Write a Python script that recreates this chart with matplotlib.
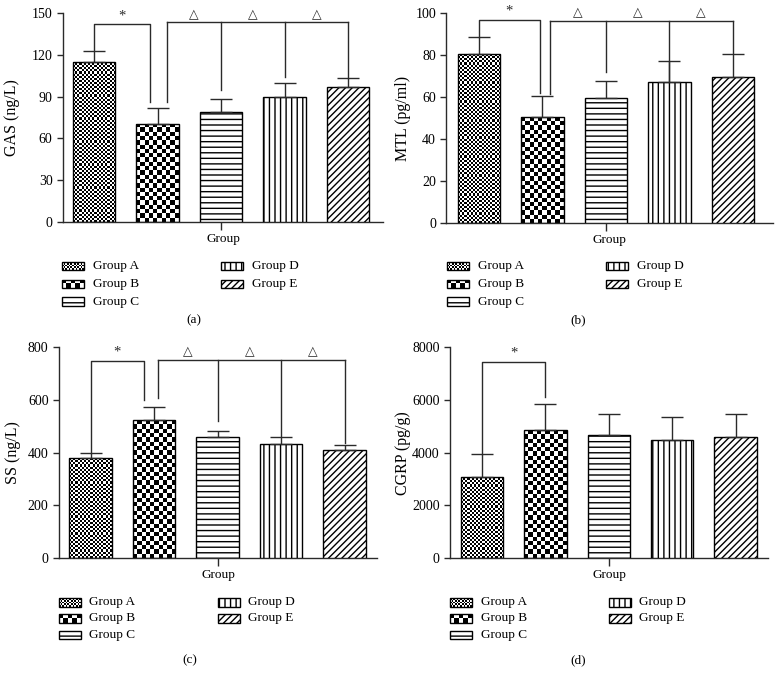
import numpy as np
import matplotlib
matplotlib.use("Agg")
import matplotlib.pyplot as plt
from matplotlib.patches import Rectangle

plt.rcParams['font.family'] = ['Liberation Serif', 'DejaVu Sans']
plt.rcParams['hatch.linewidth'] = 1.0

# ---------------- data ----------------
groups = ['Group A', 'Group B', 'Group C', 'Group D', 'Group E']

gas_mean = [115.0, 70.5, 78.7, 89.4, 96.8]
gas_sd = [7.8, 11.5, 9.3, 10.0, 6.2]

mtl_mean = [80.7, 50.5, 59.7, 67.1, 69.8]
mtl_sd = [8.2, 9.9, 8.0, 10.3, 11.0]

ss_mean = [379, 524, 460, 432, 410]
ss_sd = [19, 48, 21, 28, 20]

cgrp_mean = [3086, 4846, 4657, 4467, 4581]
cgrp_sd = [874, 987, 797, 896, 873]

ylabels = ['GAS (ng/L)', 'MTL (pg/ml)', 'SS (ng/L)', 'CGRP (pg/g)']
yticks = [np.arange(0, 151, 30), np.arange(0, 101, 20),
          np.arange(0, 801, 200), np.arange(0, 8001, 2000)]
panel_tags = ['(a)', '(b)', '(c)', '(d)']

# significance brackets: (top, leg bottoms)
star_brackets = [(141.6, [123, 86]), (96.9, [88.9, 61.8]),
                 (749, [398, 600]), (7450, [3960, 6122])]
delta_brackets = [(143, [86, 94.6, 104, 103]), (96.5, [61.3, 72.1, 67, 80.9]),
                  (752, [606, 521, 463, 435]), None]

# ---------------- layout (pixels) ----------------
W, H = 776, 686
fig = plt.figure(figsize=(W / 100, H / 100), dpi=100)

# left, right, top, bottom in px; xlim; ylabel x; bracket leg offsets
layout = [
    (63, 383, 12.7, 222.3, (-0.488, 4.55), -0.158, 0.115, 0.15),
    (446.5, 773, 13.3, 222.7, (-0.51, 4.63), -0.134, 0.04, 0.125),
    (59, 377, 347.3, 557.7, (-0.496, 4.51), -0.146, 0.157, 0.063),
    (450, 768, 347.3, 558.0, (-0.505, 4.51), -0.148, 0.0, 0.0),
]

means = [gas_mean, mtl_mean, ss_mean, cgrp_mean]
sds = [gas_sd, mtl_sd, ss_sd, cgrp_sd]

LC = '#2a2a2a'
hatches = [None, None, '---', '|||', '/////']
checker_cells = [2.1, 4.3, None, None, None]


def checker(nx, ny):
    i, j = np.indices((ny, nx))
    return ((i + j) % 2).astype(float)


axes = []
for k in range(4):
    l, r, t, b, xl, ylx, off_s, off_d = layout[k]
    ax = fig.add_axes([l / W, 1 - b / H, (r - l) / W, (b - t) / H])
    axes.append(ax)
    x = np.arange(5)
    ymax = yticks[k][-1]
    ax.set_xlim(*xl)
    ax.set_ylim(0, ymax)
    bars = ax.bar(x, means[k], width=0.67, color='white', edgecolor='black',
                  linewidth=1.0, zorder=3)
    for i, bar in enumerate(bars):
        if hatches[i]:
            bar.set_hatch(hatches[i])
        else:
            bar.set_facecolor('none')
            x0, w, h = bar.get_x(), bar.get_width(), bar.get_height()
            p0 = ax.transData.transform((x0, 0))
            p1 = ax.transData.transform((x0 + w, h))
            c = checker_cells[i]
            nx = max(1, int(round((p1[0] - p0[0]) / c)))
            ny = max(1, int(round((p1[1] - p0[1]) / c)))
            im = ax.imshow(checker(nx, ny), extent=[x0, x0 + w, 0, h],
                           cmap='gray', interpolation='nearest', aspect='auto',
                           origin='lower', zorder=2, vmin=0, vmax=1)
            im.set_clip_path(bar)
    ax.errorbar(x, means[k], yerr=[np.zeros(5), sds[k]], fmt='none',
                ecolor=LC, elinewidth=1.0, capsize=7.8, capthick=1.0, zorder=4)
    ax.set_xlim(*xl)
    ax.set_ylim(0, ymax)
    ax.set_yticks(yticks[k])
    ax.set_xticks([2])
    ax.set_xticklabels([''])
    ax.tick_params(axis='y', direction='out', length=4.5, width=1.0,
                   labelsize=10, pad=3, color=LC)
    ax.tick_params(axis='x', direction='out', length=5.5, width=1.0, color=LC)
    for s in ['top', 'right']:
        ax.spines[s].set_visible(False)
    for s in ['left', 'bottom']:
        ax.spines[s].set_linewidth(1.0)
        ax.spines[s].set_color(LC)
    ax.set_xlabel('Group', fontsize=9.5)
    ax.xaxis.set_label_coords(0.5, -0.081)
    ax.xaxis.label.set_va('center')
    ax.set_ylabel(ylabels[k], fontsize=11.5)
    ax.yaxis.set_label_coords(ylx, 0.5)
    ax.yaxis.label.set_va('center')

    # brackets
    top, bots = star_brackets[k]
    xs = [0, 1 - off_s]
    ax.plot([xs[0], xs[0], xs[1], xs[1]], [bots[0], top, top, bots[1]],
            color=LC, lw=1.0, zorder=5)
    ax.annotate('*', xy=((xs[0] + xs[1]) / 2, top), xytext=(0, 1.5),
                textcoords='offset points', ha='center', va='bottom',
                fontsize=10.5, color=LC)
    db = delta_brackets[k]
    if db:
        top, bots = db
        xs = [1 + off_d, 2, 3, 4]
        ax.plot([xs[0], xs[-1]], [top, top], color=LC, lw=1.0, zorder=5)
        for xx, bb in zip(xs, bots):
            ax.plot([xx, xx], [bb, top], color=LC, lw=1.0, zorder=5)
        for a1, a2 in zip(xs[:-1], xs[1:]):
            ax.annotate('\u25b3', xy=((a1 + a2) / 2, top), xytext=(0, 1.0),
                        textcoords='offset points', ha='center', va='bottom',
                        fontsize=9, color=LC, family=['DejaVu Sans'])

# ---------------- legends and panel tags (overlay in pixel coords) ----------------
ov = fig.add_axes([0, 0, 1, 1])
ov.set_xlim(0, W)
ov.set_ylim(H, 0)
ov.set_axis_off()

leg_layout = [
    # col1 patch x, col1 text x, col2 patch x, col2 text x, rows y, tag x, tag y
    (62.3, 92.7, 220.7, 251.7, [266, 284, 301.7], 194.3, 320.7),
    (446.7, 477.7, 606, 636.7, [266, 284, 301.7], 578.3, 320.7),
    (59, 89.3, 217.7, 248.3, [602.3, 618.3, 635], 190, 660),
    (450, 480.7, 609, 639.3, [602.3, 618.3, 635], 578.3, 660),
]
PW, PH = 22, 8.6
leg_cells = [1.7, 4.4]
for k in range(4):
    p1x, t1x, p2x, t2x, rows, tx, ty = leg_layout[k]
    slots = [(p1x, t1x, rows[0]), (p1x, t1x, rows[1]), (p1x, t1x, rows[2]),
             (p2x, t2x, rows[0]), (p2x, t2x, rows[1])]
    for i, (px, txx, yy) in enumerate(slots):
        y0 = yy - PH / 2
        if hatches[i]:
            rect = Rectangle((px, y0), PW, PH, facecolor='white',
                             edgecolor='black', lw=1.0, hatch=hatches[i], zorder=3)
            ov.add_patch(rect)
        else:
            rect = Rectangle((px, y0), PW, PH, facecolor='none',
                             edgecolor='black', lw=1.0, zorder=3)
            ov.add_patch(rect)
            c = leg_cells[i]
            nx = max(1, int(round(PW / c)))
            ny = max(1, int(round(PH / c)))
            im = ov.imshow(checker(nx, ny), extent=[px, px + PW, y0 + PH, y0],
                           cmap='gray', interpolation='nearest', aspect='auto',
                           zorder=2, vmin=0, vmax=1)
            im.set_clip_path(rect)
        ov.text(txx, yy, groups[i], fontsize=9.5, va='center', ha='left')
    ov.text(tx, ty, panel_tags[k], fontsize=9.5, va='center', ha='center')

ov.set_xlim(0, W)
ov.set_ylim(H, 0)

fig.savefig('out.png', dpi=100)
